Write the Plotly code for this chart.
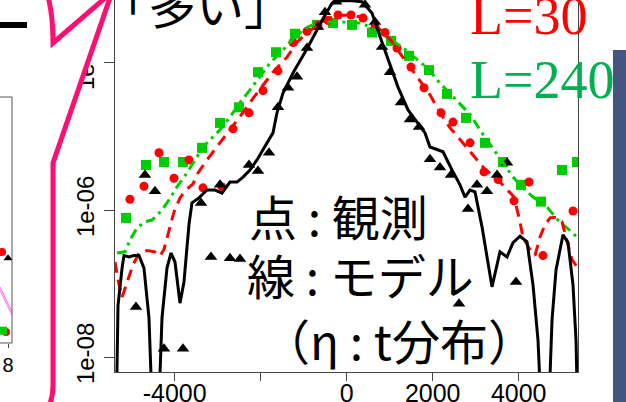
import plotly.graph_objects as go

W, H = 626, 402

# ---------------- data (main panel) ----------------
obs_black_x = [-4900, -4691, -4458, -4249, -3807, -3388, -3156, -2946, -2714, -2481, -2272, -2063,
               -1807, -1598, -1365, -1156, -923, -667, -505, -249, 426, 658, 821, 1007, 1263, 1472,
               1682, 1937, 2170, 2426, 2612, 2821, 3030, 3263, 3496, 3728, 3937]
obs_black_y = [4.8e-8, 3.0e-6, 1.8e-6, 1.3e-8, 1.3e-8, 1.25e-6, 2.3e-7, 2.2e-6, 2.2e-7, 2.15e-7, 4.1e-6, 3.4e-6,
               6.0e-6, 2.5e-5, 4.6e-5, 6.5e-5, 1.6e-4, 3.1e-4, 4.9e-4, 6.8e-4, 6.2e-4, 3.6e-4, 1.65e-4, 7.5e-5,
               2.9e-5, 1.7e-5, 1.35e-5, 4.9e-6, 3.8e-6, 3.0e-6, 5.3e-8, 1.03e-6, 2.2e-6, 1.8e-6, 3.0e-6, 4.4e-6,
               1.05e-7]

obs_red_x = [-5040, -4714, -4365, -4016, -3668, -3342, -2900, -2644, -2272, -1947, -1598, -1249, -923, -667,
             -435, -202, 100, 379, 658, 891, 1170, 1495, 1798, 2193, 2472, 2868, 3193, 3519, 3891, 4240, 4565, 5263]
obs_red_y = [1.4e-6, 2.1e-6, 6.0e-6, 2.7e-6, 4.8e-6, 2.0e-6, 2.06e-6, 1.27e-5, 2.1e-5, 4.2e-5, 7.8e-5, 1.9e-4,
             2.7e-4, 3.3e-4, 3.8e-4, 4.5e-4, 4.5e-4, 4.1e-4, 3.1e-4, 2.6e-4, 1.6e-4, 8.8e-5, 4.6e-5, 2.1e-5,
             1.57e-5, 8.2e-6, 3.3e-6, 2.6e-6, 1.33e-6, 2.4e-6, 2.4e-7, 9.7e-7]

obs_green_x = [-5132, -4668, -4249, -3807, -3365, -2946, -2505, -2063, -1644, -1202, -691, -319, 123, 588,
               1030, 1449, 1914, 2333, 2774, 3216, 3635, 4053, 4519, 5007, 5356]
obs_green_y = [7.8e-7, 4.1e-6, 4.5e-6, 4.5e-6, 7.0e-6, 1.53e-5, 2.5e-5, 7.5e-5, 1.4e-4, 2.5e-4, 3.3e-4, 3.5e-4,
               3.3e-4, 2.6e-4, 2.0e-4, 1.25e-4, 8.0e-5, 3.8e-5, 1.79e-5, 8.2e-6, 4.5e-6, 2.2e-6, 1.3e-6,
               3.5e-6, 4.5e-6]

model_black_x = [-5365, -5318, -5225, -5179, -5063, -4947, -4830, -4714, -4598, -4505, -4388, -4295, -4179,
                 -4086, -3993, -3877, -3784, -3668, -3598, -3435, -3249, -3063, -2900, -2714, -2551, -2411,
                 -2249, -2086, -1947, -1714, -1621, -1481, -1249, -1040, -900, -574, -342, -109, 123, 356,
                 588, 774, 960, 1193, 1426, 1658, 1821, 1937, 2100, 2240, 2449, 2635, 2751, 2868, 2984,
                 3147, 3379, 3565, 3728, 3868, 4030, 4193, 4333, 4449, 4542, 4682, 4775, 4868, 5030, 5147,
                 5263, 5333, 5379]
model_black_y = [1e-9, 5e-8, 1.6e-7, 2.4e-7, 2.3e-7, 2.4e-7, 2.4e-7, 1.62e-7, 3.4e-8, 1e-9, 1e-9, 3.4e-8, 1.62e-7,
                 2.6e-7, 1.96e-7, 5.4e-8, 1.05e-7, 6.3e-7, 1.25e-6, 1.46e-6, 1.87e-6, 1.87e-6, 1.7e-6, 2.4e-6,
                 2.4e-6, 2.8e-6, 3.5e-6, 4.8e-6, 6.6e-6, 1.12e-5, 2.1e-5, 3.9e-5, 7.3e-5, 1.17e-4, 1.65e-4,
                 3.8e-4, 6.5e-4, 7.0e-4, 7.0e-4, 6.8e-4, 4.8e-4, 2.3e-4, 1.1e-4, 4.7e-5, 2.3e-5, 1.53e-5,
                 1.12e-5, 7.2e-6, 6.6e-6, 6.2e-6, 3.5e-6, 2.2e-6, 1.5e-6, 1.87e-6, 1.76e-6, 5.9e-7, 9.0e-8,
                 2.7e-7, 2.3e-7, 3.6e-7, 4.4e-7, 3.7e-7, 9.5e-8, 1.7e-8, 1e-9, 1e-9, 3.2e-8, 1.53e-7, 4.6e-7,
                 3.6e-7, 9.5e-8, 1.7e-8, 1e-9]

model_red_x = [-5388, -5318, -5225, -5109, -4970, -4830, -4644, -4458, -4342, -4249, -4156, -4016, -3877,
               -3737, -3575, -3458, -3249, -3016, -2784, -2551, -2365, -2179, -1947, -1714, -1388, -1156,
               -923, -574, -272, 77, 356, 658, 1007, 1356, 1705, 1937, 2170, 2403, 2565, 2868, 3193, 3565,
               3891, 4030, 4100, 4263, 4379, 4496, 4612, 4728, 4868, 5007, 5123, 5240, 5379]
model_red_y = [1.96e-7, 1.12e-7, 6.5e-8, 1.02e-7, 1.79e-7, 2.6e-7, 2.8e-7, 2.7e-7, 2.37e-7, 2.9e-7, 4.6e-7,
               9.4e-7, 1.46e-6, 1.87e-6, 2.26e-6, 3.2e-6, 4.8e-6, 7.2e-6, 1.12e-5, 1.68e-5, 2.3e-5, 3.3e-5,
               5.0e-5, 7.5e-5, 1.2e-4, 1.9e-4, 2.6e-4, 3.6e-4, 4.4e-4, 4.5e-4, 4.2e-4, 3.3e-4, 2.1e-4,
               1.1e-4, 5.9e-5, 3.7e-5, 2.1e-5, 1.31e-5, 1.02e-5, 6.2e-6, 3.7e-6, 2.4e-6, 1.5e-6, 6.9e-7,
               4.2e-7, 2.9e-7, 2.4e-7, 4.3e-7, 6.3e-7, 7.8e-7, 8.0e-7, 6.9e-7, 3.7e-7, 2.1e-7, 1.62e-7]

model_green_x = [-5342, -5156, -5040, -4877, -4691, -4528, -4412, -4295, -4133, -3947, -3714, -3482, -3249,
                 -2946, -2714, -2481, -2249, -2016, -1784, -1481, -1202, -900, -621, -109, 356, 658, 960,
                 1286, 1588, 1867, 2170, 2565, 2868, 3147, 3403, 3635, 3868, 4100, 4333, 4658, 4891, 5123, 5356]
model_green_y = [2.6e-7, 2.7e-7, 3.9e-7, 5.7e-7, 6.9e-7, 7.3e-7, 8.5e-7, 1.0e-6, 1.37e-6, 2.06e-6, 3.2e-6,
                 5.3e-6, 8.2e-6, 1.23e-5, 1.84e-5, 2.9e-5, 4.3e-5, 6.5e-5, 1.0e-4, 1.5e-4, 2.3e-4, 3.1e-4,
                 3.6e-4, 3.6e-4, 3.5e-4, 2.8e-4, 2.2e-4, 1.65e-4, 1.17e-4, 8.6e-5, 5.3e-5, 3.1e-5, 2.0e-5,
                 1.12e-5, 7.0e-6, 4.4e-6, 2.8e-6, 2.0e-6, 1.5e-6, 1.1e-6, 7.5e-7, 5.7e-7, 4.3e-7]

x_tick_vals = [-4000, -2000, 0, 2000, 4000]
x_tick_text = ["-4000", "", "0", "2000", "4000"]
y_tick_vals = [1e-8, 1e-6, 1e-4]
y_tick_text = ["1e-08", "1e-06", "1e-04"]

# ---------------- data (partial left panel) ----------------
mini_red_x = [7.4, 7.8]
mini_red_y = [0.37, 0.045]
mini_black_x = [8.0]
mini_black_y = [0.345]
mini_green_x = [7.5]
mini_green_y = [0.05]
mini_line_x = [7.2, 8.4]
mini_line1_y = [0.228, 0.126]
mini_line2_y = [0.215, 0.113]

RED = "#FF0000"
GREEN = "#00CC00"
PINK = "#FF1070"


def X(px):
    return px / W


def Y(py):
    return 1 - py / H


fig = go.Figure()

# observations
fig.add_trace(go.Scatter(x=obs_green_x, y=obs_green_y, mode="markers",
                         marker=dict(symbol="square", size=10, color=GREEN)))
fig.add_trace(go.Scatter(x=obs_red_x, y=obs_red_y, mode="markers",
                         marker=dict(symbol="circle", size=9, color=RED)))
fig.add_trace(go.Scatter(x=obs_black_x, y=obs_black_y, mode="markers",
                         marker=dict(symbol="triangle-up", size=11, color="black")))
# models
fig.add_trace(go.Scatter(x=model_green_x, y=model_green_y, mode="lines",
                         line=dict(color=GREEN, width=3, dash="10px,5px,3px,5px")))
fig.add_trace(go.Scatter(x=model_red_x, y=model_red_y, mode="lines",
                         line=dict(color=RED, width=3, dash="11px,7px")))
fig.add_trace(go.Scatter(x=model_black_x, y=model_black_y, mode="lines",
                         line=dict(color="black", width=3)))

# partial left panel
fig.add_trace(go.Scatter(x=mini_line_x, y=mini_line1_y, mode="lines", xaxis="x2", yaxis="y2",
                         line=dict(color="#FF66FF", width=1)))
fig.add_trace(go.Scatter(x=mini_line_x, y=mini_line2_y, mode="lines", xaxis="x2", yaxis="y2",
                         line=dict(color="#FF66FF", width=1)))
fig.add_trace(go.Scatter(x=mini_red_x, y=mini_red_y, mode="markers", xaxis="x2", yaxis="y2",
                         marker=dict(symbol="circle", size=8, color=RED)))
fig.add_trace(go.Scatter(x=mini_green_x, y=mini_green_y, mode="markers", xaxis="x2", yaxis="y2",
                         marker=dict(symbol="square", size=8, color=GREEN)))
fig.add_trace(go.Scatter(x=mini_black_x, y=mini_black_y, mode="markers", xaxis="x2", yaxis="y2",
                         marker=dict(symbol="triangle-up", size=8, color="black")))

axis_font = dict(family="Liberation Sans, Arial, sans-serif", size=25, color="black")

fig.update_layout(
    width=W, height=H,
    margin=dict(l=0, r=0, t=0, b=0),
    paper_bgcolor="white", plot_bgcolor="white",
    showlegend=False,
    xaxis=dict(domain=[X(115), X(578)], anchor="y", range=[-5388, 5379],
               showgrid=False, zeroline=False, showline=True, linecolor="#444", linewidth=1,
               ticks="outside", ticklen=8, tickcolor="#444", tickvals=x_tick_vals, ticktext=x_tick_text,
               tickfont=axis_font, ticklabelstandoff=-9, automargin=False),
    yaxis=dict(domain=[Y(372), 1], anchor="x", type="log", range=[-8.204, -3.143],
               showgrid=False, zeroline=False, showline=True, mirror=True, linecolor="#444", linewidth=1,
               ticks="outside", ticklen=10, tickcolor="#444", tickvals=y_tick_vals, ticktext=y_tick_text,
               tickangle=-90, tickfont=dict(family="Liberation Sans, Arial, sans-serif", size=24, color="black"),
               automargin=False),
    xaxis2=dict(domain=[0, X(12)], anchor="y2", range=[7.2, 8.4], showgrid=False, zeroline=False,
                showline=False, ticks="outside", ticklen=4, tickcolor="#444", tickvals=[8], ticktext=["8"],
                tickfont=dict(family="Liberation Sans, Arial, sans-serif", size=20, color="black"),
                automargin=False),
    yaxis2=dict(domain=[Y(343), Y(97)], anchor="x2", range=[0, 1], showgrid=False, zeroline=False,
                showline=False, showticklabels=False, ticks="", automargin=False),
)

shapes = []
# partial left panel box
for (x0, y0, x1, y1) in [(0, 97, 12, 97), (12, 97, 12, 343), (0, 343, 12, 343)]:
    shapes.append(dict(type="line", xref="paper", yref="paper", x0=X(x0), y0=Y(y0), x1=X(x1), y1=Y(y1),
                       line=dict(color="#555", width=1)))
# black bar top-left
shapes.append(dict(type="rect", xref="paper", yref="paper", x0=X(0), y0=Y(28), x1=X(27), y1=Y(22),
                   fillcolor="black", line=dict(width=0)))
# white fill of callout pointer
shapes.append(dict(type="path", xref="paper", yref="paper", layer="above",
                   path=f"M {X(53)},{Y(43)} L {X(112)},{Y(-8)} L {X(53)},{Y(163)} Z",
                   fillcolor="white", line=dict(width=0)))
# callout outline
shapes.append(dict(type="path", xref="paper", yref="paper", layer="above",
                   path=(f"M {X(46)},{Y(-10)} Q {X(53)},{Y(10)} {X(53)},{Y(43)} "
                         f"L {X(112)},{Y(-8)} L {X(53)},{Y(163)} L {X(53)},{Y(385)} "
                         f"Q {X(53)},{Y(400)} {X(47)},{Y(410)}"),
                   fillcolor="rgba(0,0,0,0)", line=dict(color=PINK, width=5)))
# dark blue bar right
shapes.append(dict(type="rect", xref="paper", yref="paper", x0=X(613), y0=0, x1=1, y1=Y(50),
                   fillcolor="#44557F", line=dict(width=0)))
fig.update_layout(shapes=shapes)

jp = dict(family="Noto Sans CJK JP", size=48, color="black")
ann = [
    dict(text="「多い」", x=X(98), y=Y(3), xanchor="left", yanchor="middle", font=jp),
    dict(text="点 : 観測", x=X(247), y=Y(215), xanchor="left", yanchor="middle", font=jp),
    dict(text="線 : モデル", x=X(245), y=Y(274), xanchor="left", yanchor="middle", font=jp),
    dict(text="（η : t分布）", x=X(260), y=Y(339), xanchor="left", yanchor="middle", font=jp),
    dict(text="L=30", x=X(468), y=Y(16), xanchor="left", yanchor="middle",
         font=dict(family="Liberation Serif, Times New Roman, serif", size=54, color=RED)),
    dict(text="L=240", x=X(468), y=Y(80), xanchor="left", yanchor="middle",
         font=dict(family="Liberation Serif, Times New Roman, serif", size=54, color="#00B050")),
]
for a in ann:
    a.update(xref="paper", yref="paper", showarrow=False)
fig.update_layout(annotations=ann)

fig.write_html("out.html", config={"displayModeBar": False},
               post_script="document.body.style.margin='0';document.body.style.overflow='hidden';")
